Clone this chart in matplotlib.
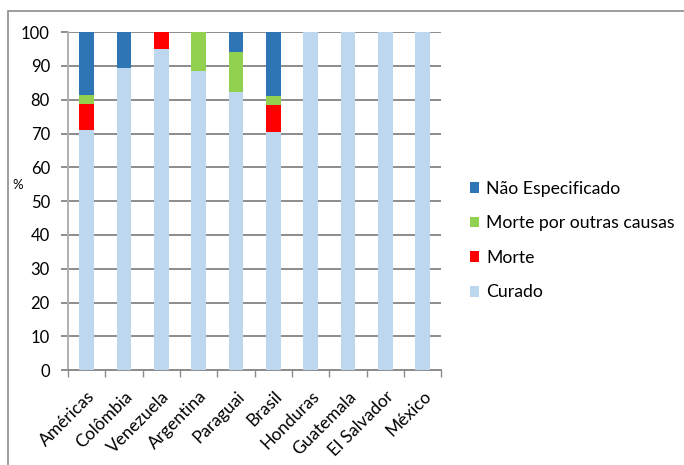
import matplotlib.pyplot as plt
import numpy as np

plt.rcParams['font.family'] = ['Lato', 'DejaVu Sans']

paises = ['Américas', 'Colômbia', 'Venezuela', 'Argentina', 'Paraguai',
          'Brasil', 'Honduras', 'Guatemala', 'El Salvador', 'México']
curado = [71.0, 89.4, 94.9, 88.5, 82.2, 70.4, 100, 100, 100, 100]
morte = [7.7, 0, 5.1, 0, 0, 8.0, 0, 0, 0, 0]
outras = [2.6, 0, 0, 11.5, 11.9, 2.7, 0, 0, 0, 0]
nao_espec = [18.7, 10.6, 0, 0, 5.9, 18.9, 0, 0, 0, 0]

series = [
    ('Curado', curado, '#BDD7EE'),
    ('Morte', morte, '#FF0000'),
    ('Morte por outras causas', outras, '#92D050'),
    ('Não Especificado', nao_espec, '#2E75B6'),
]

fig = plt.figure(figsize=(6.84, 4.65), dpi=100)
ax = fig.add_axes([0.0994, 0.204, 0.546, 0.727])

# moldura da área do gráfico
fig.patches.append(plt.Rectangle((8 / 684, -0.1), 1.2, 1 - 11 / 465 + 0.1,
                                 transform=fig.transFigure, fill=False,
                                 edgecolor='#8c8c8c', linewidth=1.2))

x = np.arange(len(paises))
base = np.zeros(len(paises))
for nome, vals, cor in series:
    ax.bar(x, vals, 0.39, bottom=base, color=cor, label=nome, zorder=3)
    base += np.array(vals)

ax.set_xlim(-0.5, len(paises) - 0.5)
ax.set_ylim(0, 100)
ax.set_yticks(range(0, 101, 10))
ax.yaxis.grid(True, color='#8c8c8c', linewidth=1.4, zorder=0)
ax.set_axisbelow(True)

for s in ['top', 'right']:
    ax.spines[s].set_visible(False)
ax.spines['left'].set_color('#b0b0b0')
ax.spines['left'].set_linewidth(1.4)
ax.spines['bottom'].set_color('#8c8c8c')
ax.spines['bottom'].set_linewidth(1.4)

ax.set_xticks(x)
ax.set_xticklabels(paises, rotation=45, ha='right', rotation_mode='anchor',
                   fontsize=12.5)
ax.tick_params(axis='x', length=0, pad=13)
ax.set_xticks(np.arange(-0.5, len(paises), 1), minor=True)
ax.tick_params(axis='x', which='minor', length=5, color='#8c8c8c', width=1)
ax.tick_params(axis='y', length=5, color='#8c8c8c', width=1.4,
               labelsize=12, pad=8)

fig.text(12 / 684, 1 - 185 / 465, '%', fontsize=9.5, va='center')

h, l = ax.get_legend_handles_labels()
ax.legend(h[::-1], l[::-1], loc='center left', bbox_to_anchor=(1.033, 0.383),
          frameon=False, fontsize=12.7, handlelength=0.55, handleheight=0.55,
          handletextpad=0.4, labelspacing=1.05)

fig.savefig('out.png', dpi=100)
